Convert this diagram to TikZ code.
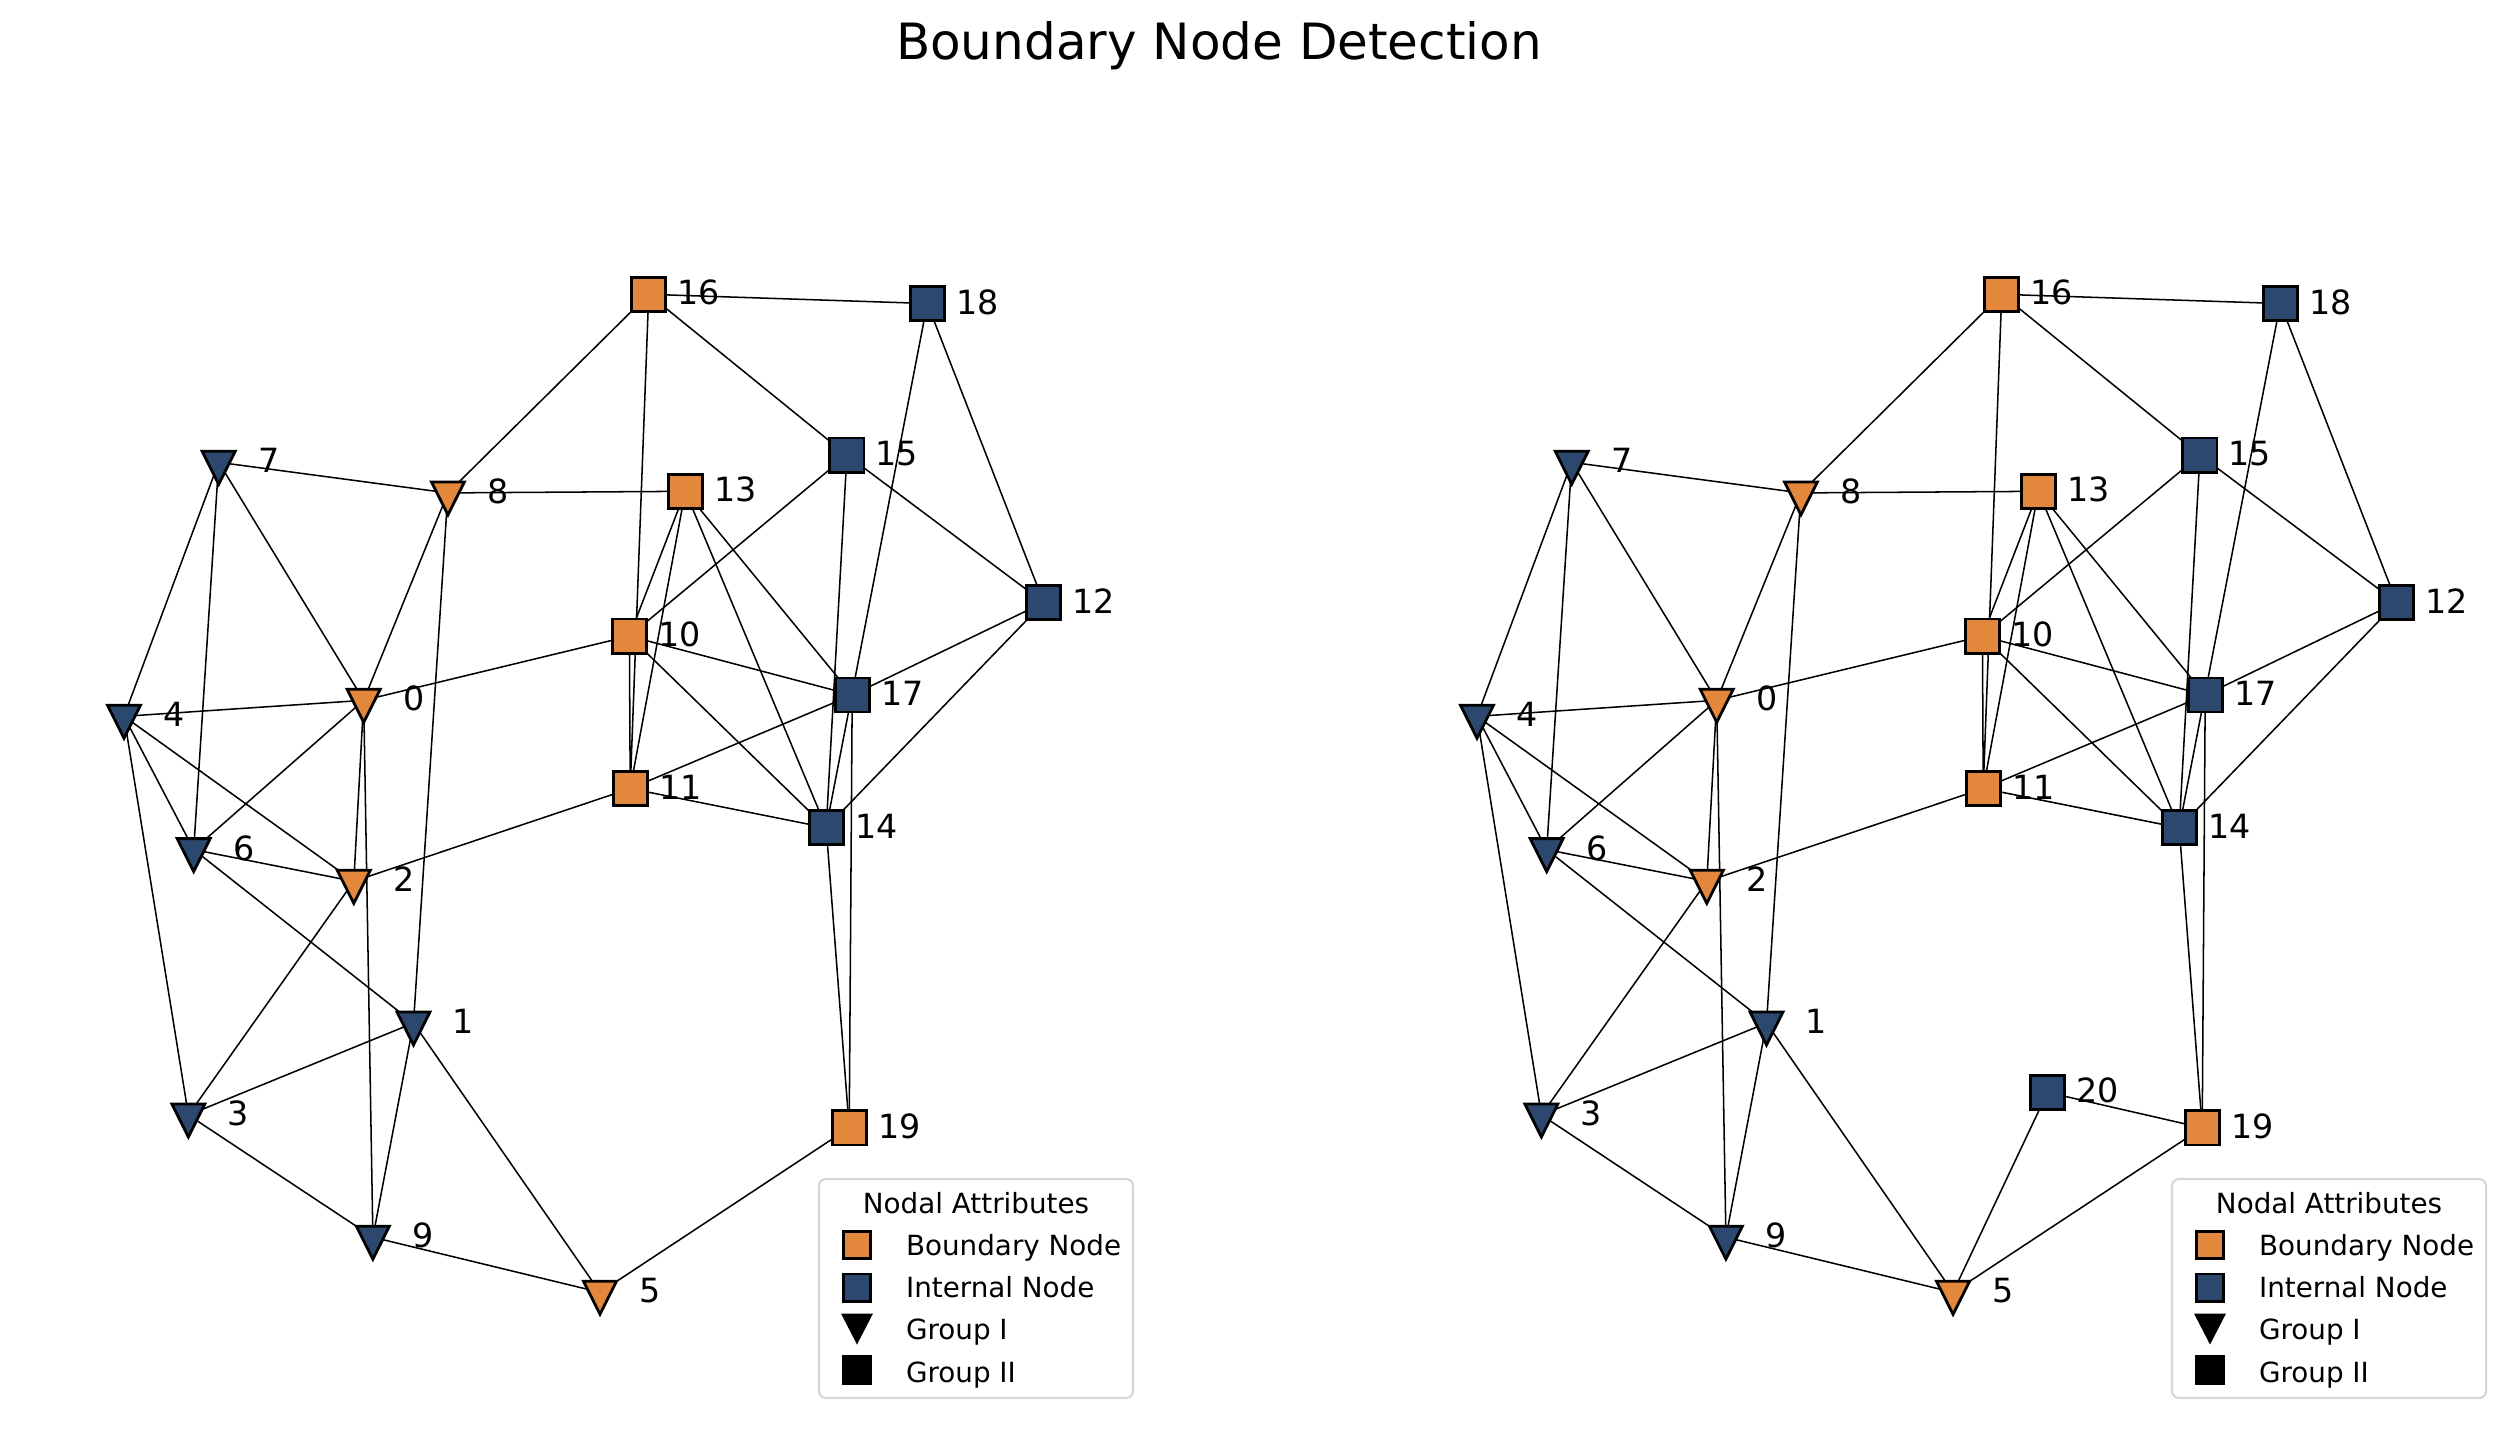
\documentclass[tikz,border=0pt]{standalone}
\usepackage{fontspec}
\setmainfont{DejaVu Sans}
\definecolor{bndC}{RGB}{226,135,59}
\definecolor{intC}{RGB}{44,72,110}
\definecolor{frameC}{RGB}{214,214,214}
\tikzset{
  edge/.style={line width=0.55pt, black},
  sqm/.style={draw=black, line width=1pt, rectangle, minimum size=12.3pt, inner sep=0pt},
  bsq/.style={sqm, fill=bndC},
  isq/.style={sqm, fill=intC},
  trim/.style={draw=black, line width=1pt, line join=miter},
  lbl/.style={font=\fontsize{12}{14}\selectfont, anchor=base, inner sep=0pt},
  legtxt/.style={font=\fontsize{10}{12}\selectfont, anchor=base west, inner sep=0pt},
  legtitle/.style={font=\fontsize{10}{12}\selectfont, anchor=base, inner sep=0pt},
  legframe/.style={draw=frameC, fill=white, line width=0.75pt, rounded corners=2.5pt},
  figtitle/.style={font=\fontsize{18}{22}\selectfont, anchor=base, inner sep=0pt},
}
\newcommand{\trimark}[2]{\filldraw[trim, fill=#2] (n#1) ++(-16.5,-11) -- ++(33,0) -- ++(-16.5,33) -- cycle;}
\newcommand{\sqmark}[2]{\node[#2] (s#1) at (n#1) {};}
\newcommand{\lab}[1]{\node[lbl] (t#1) at ([shift={(50,10.6)}]n#1) {#1};}
\newcommand{\graphcoords}{%
  \coordinate (n0) at (363.7,700.3);
  \coordinate (n1) at (413.5,1023);
  \coordinate (n2) at (353.8,881.3);
  \coordinate (n3) at (188.4,1115);
  \coordinate (n4) at (124,716.3);
  \coordinate (n5) at (600,1292.3);
  \coordinate (n6) at (193.7,849.6);
  \coordinate (n7) at (218.7,462.3);
  \coordinate (n8) at (447.9,492.9);
  \coordinate (n9) at (372.9,1237.2);
  \coordinate (n10) at (629.4,636.1);
  \coordinate (n11) at (630.2,788.5);
  \coordinate (n12) at (1043.7,602.5);
  \coordinate (n13) at (685.3,491.3);
  \coordinate (n14) at (826.2,827.7);
  \coordinate (n15) at (846.9,455.1);
  \coordinate (n16) at (648.7,294.3);
  \coordinate (n17) at (852.2,695.0);
  \coordinate (n18) at (927.3,303.5);
  \coordinate (n19) at (849.2,1127.8);
}
\newcommand{\graphedges}{%
  \foreach \a/\b in {16/18,16/8,16/11,16/15,18/14,18/12,15/12,15/10,15/14,13/8,13/10,13/11,13/14,13/17,10/0,10/17,10/14,10/11,17/12,17/11,17/19,12/14,11/14,11/2,14/19,19/5,7/8,7/4,7/6,7/0,8/0,8/1,4/0,4/6,4/2,4/3,0/6,0/2,0/9,6/2,6/1,2/3,1/3,1/9,1/5,3/9,9/5}
    {\draw[edge] (n\a) -- (n\b);}
}
\newcommand{\graphmarks}{%
  \foreach \k in {0,2,5,8} {\trimark{\k}{bndC}}
  \foreach \k in {1,3,4,6,7,9} {\trimark{\k}{intC}}
  \foreach \k in {10,11,13,16,19} {\sqmark{\k}{bsq}}
  \foreach \k in {12,14,15,17,18} {\sqmark{\k}{isq}}
  \foreach \k in {0,1,2,3,4,5,6,7,8,9,10,11,12,13,14,15,16,17,18,19} {\lab{\k}}
}
\newcommand{\graphlegend}{%
  \draw[legframe] (819,1179) rectangle (1133,1398);
  \node[legtitle] (legT) at (976,1213.3) {Nodal Attributes};
  \node[bsq, minimum size=9.8pt] (legB) at (857,1245) {};
  \node[legtxt] (legBt) at (905.5,1255) {Boundary Node};
  \node[isq, minimum size=9.8pt] (legI) at (857,1287.5) {};
  \node[legtxt] (legIt) at (905.5,1297.3) {Internal Node};
  \fill[black] (841,1313.5) -- (873,1313.5) -- (857,1344.5) -- cycle;
  \node[legtxt] (legGt) at (905.5,1339.3) {Group I};
  \node[fill=black, minimum size=10.8pt, inner sep=0pt] (legG2) at (857,1370.3) {};
  \node[legtxt] (legG2t) at (905.5,1382.3) {Group II};
}
\begin{document}
\begin{tikzpicture}[x=0.36pt, y=-0.36pt]
  \fill[white] (0,0) rectangle (2519,1431);
  \useasboundingbox (0,0) rectangle (2519,1431);
  \node[figtitle] (title) at (1219,59) {Boundary Node Detection};
  \begin{scope}[name prefix=L-]
    \graphcoords
    \graphedges
    \graphmarks
    \graphlegend
  \end{scope}
  \begin{scope}[shift={(1353,0)}, name prefix=R-]
    \graphcoords
    \coordinate (n20) at (694.5,1092.3);
    \graphedges
    \draw[edge] (n20) -- (n19);
    \draw[edge] (n20) -- (n5);
    \graphmarks
    \sqmark{20}{isq}
    \lab{20}
    \graphlegend
  \end{scope}
\end{tikzpicture}
\end{document}
